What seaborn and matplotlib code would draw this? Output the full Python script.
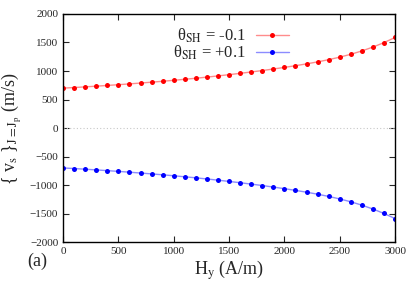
import matplotlib
matplotlib.use("Agg")
import matplotlib.pyplot as plt
import seaborn as sns
import pandas as pd

# field values (A/m) and domain wall velocity (m/s)
h_field = list(range(0, 3001, 100))
v_neg = [700, 710, 722, 734, 747, 760, 774, 789, 804, 820, 837, 855, 873, 893,
         914, 936, 959, 983, 1008, 1035, 1063, 1093, 1125, 1160, 1199, 1243,
         1293, 1352, 1420, 1498, 1588]
v_pos = [-v for v in v_neg]
labels = [r"θ$_{\rm SH}$ = -0.1", r"θ$_{\rm SH}$ = +0.1"]

df = pd.DataFrame({
    "H": h_field * 2,
    "v": v_neg + v_pos,
    "theta": [labels[0]] * len(h_field) + [labels[1]] * len(h_field),
})

sns.set_style("ticks")
plt.rcParams["font.family"] = ["Liberation Serif", "DejaVu Serif"]
plt.rcParams["mathtext.fontset"] = "stix"

fig = plt.figure(figsize=(4.15, 2.91), dpi=100)
ax = fig.add_axes([0.152, 0.168, 0.800, 0.784])

ax.axhline(0, color="#c8c8c8", linestyle=(0, (1, 2)), linewidth=0.8, zorder=1)
sns.lineplot(data=df, x="H", y="v", hue="theta", palette=["#ff0000", "#0000ff"],
             marker="o", markersize=3.6, markeredgewidth=0, linewidth=1,
             legend=False, ax=ax)

# gnuplot-like: pale line, solid markers
light = {"#ff0000": "#ff8c8c", "#0000ff": "#8c8cff"}
data_lines = [l for l in ax.lines if len(l.get_xdata()) > 2]
for line, c in zip(data_lines, ["#ff0000", "#0000ff"]):
    line.set_color(light[c])
    line.set_markerfacecolor(c)
    line.set_markeredgecolor(c)

ax.set_xlim(0, 3000)
ax.set_ylim(-2000, 2000)
ax.set_xticks(range(0, 3001, 500))
ax.set_yticks(range(-2000, 2001, 500))
ax.tick_params(direction="in", top=True, right=True, labelsize=8, length=4, width=0.8)
for s in ax.spines.values():
    s.set_linewidth(1)
    s.set_color("black")

ax.set_xlabel(r"H$_{\rm y}$ (A/m)", fontsize=13, labelpad=2)
ax.set_ylabel(r"{ v$_{\rm s}$ }$_{\rm J=J_p}$ (m/s)", fontsize=13, labelpad=4)
fig.text(0.065, 0.085, "(a)", fontsize=13)

ax.legend(data_lines, labels, loc="upper left", bbox_to_anchor=(0.31, 0.975),
          frameon=False, markerfirst=False, fontsize=12, handlelength=2.0,
          labelspacing=-0.05, handletextpad=0.6, borderaxespad=0)

fig.savefig("out.png", dpi=100)
